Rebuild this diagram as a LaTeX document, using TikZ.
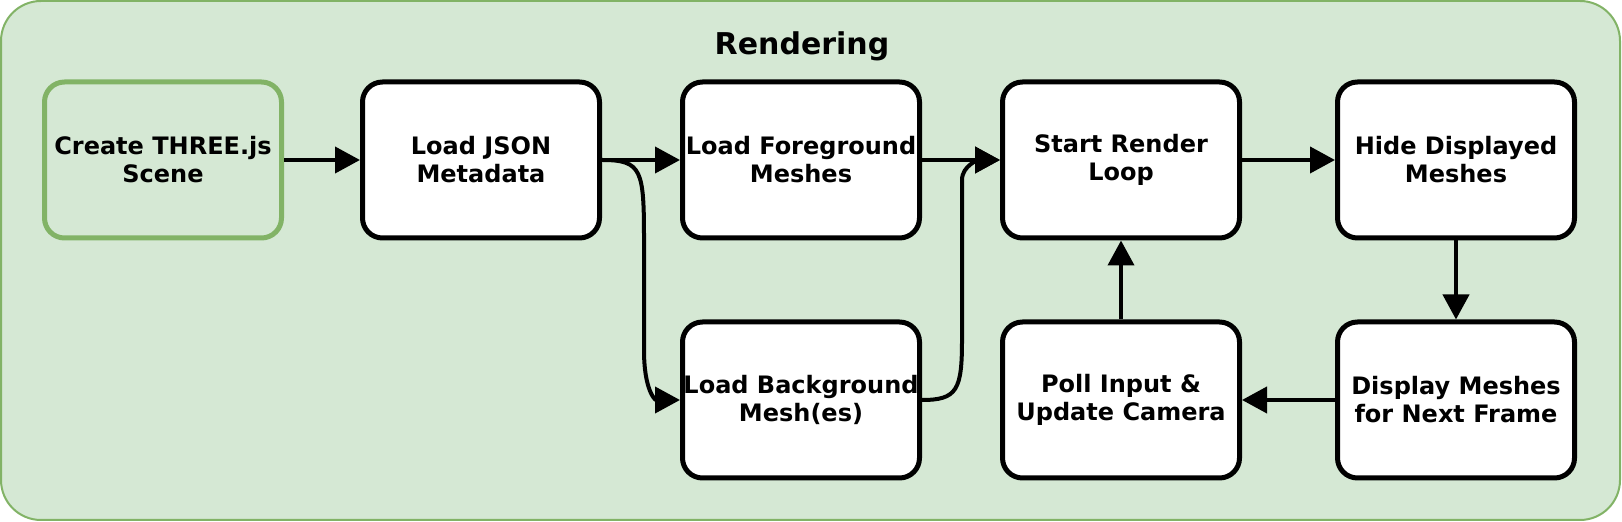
\documentclass[tikz,border=0pt]{standalone}
\usepackage{fontspec}
\setmainfont{DejaVu Sans}
\usetikzlibrary{arrows.meta,positioning}
\definecolor{grpfill}{HTML}{D5E8D4}
\definecolor{grpline}{HTML}{82B366}
\tikzset{
  stepbox/.style={draw=black, fill=white, line width=2.5pt, rounded corners=10pt,
    minimum width=118.5pt, minimum height=78pt, inner sep=0pt, align=center,
    font=\bfseries\fontsize{12}{14}\selectfont},
  startbox/.style={stepbox, draw=grpline, fill=grpfill},
  flow/.style={line width=2pt, -{Triangle[length=12.5pt,width=13pt]}}
}

\begin{document}
\begin{tikzpicture}[x=0.5pt,y=-0.5pt]
\useasboundingbox (0,0) rectangle (1622,522);
\draw[grpline, fill=grpfill, line width=1pt, rounded corners=20pt] (1,1) rectangle (1620,520);
\node[font=\bfseries\fontsize{15}{18}\selectfont, anchor=base] (title) at (802,55) {Rendering};

\node[startbox] (scene) at (163,160) {Create THREE.js\\Scene};
\node[stepbox] (json) at (481,160) {Load JSON\\Metadata};
\node[stepbox] (fg) at (801,160) {Load Foreground\\Meshes};
\node[stepbox] (bg) at (801,400) {Load Background\\Mesh(es)};
\node[stepbox] (loop) at (1121,160) {Start Render\\Loop};
\node[stepbox] (hide) at (1456,160) {Hide Displayed\\Meshes};
\node[stepbox] (show) at (1456,400) {Display Meshes\\for Next Frame};
\node[stepbox] (poll) at (1121,400) {Poll Input \&\\Update Camera};

\draw[flow] (scene.east) -- (json.west);
\draw[flow] (json.east) -- (fg.west);
\draw[flow] (json.east) .. controls +(40,0) and +(0,-70) .. ++(42,80) -- ++(0,110)
  .. controls +(0,40) and +(-25,0) .. (bg.west);
\draw[flow] (fg.east) -- (loop.west);
\draw[flow] (bg.east) .. controls +(35,0) and +(0,50) .. ++(40,-60) -- ++(0,-160)
  .. controls +(0,-15) and +(-20,0) .. (loop.west);
\draw[flow] (loop.east) -- (hide.west);
\draw[flow] (hide.south) -- (show.north);
\draw[flow] (show.west) -- (poll.east);
\draw[flow] (poll.north) -- (loop.south);
\end{tikzpicture}
\end{document}
